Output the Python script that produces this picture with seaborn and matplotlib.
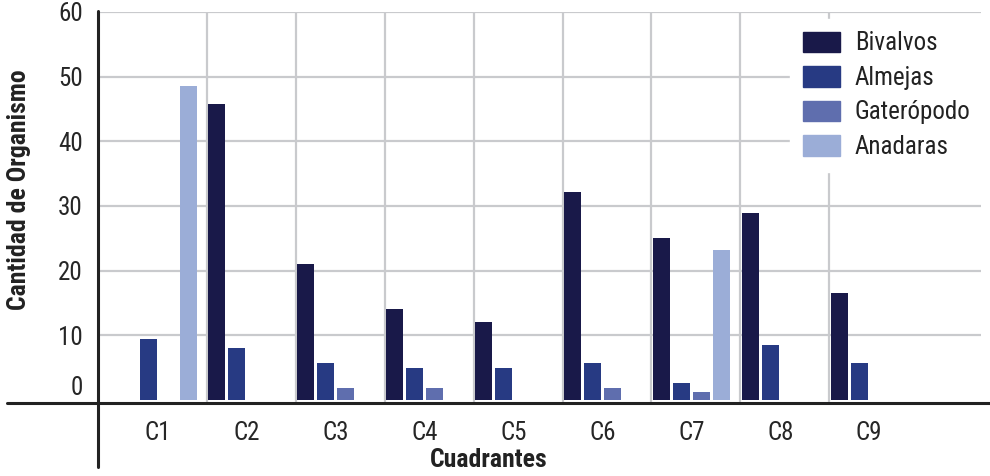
import numpy as np
import pandas as pd
import matplotlib
matplotlib.use("Agg")
import matplotlib.pyplot as plt
from matplotlib import font_manager
from matplotlib.lines import Line2D
import seaborn as sns

# Organism counts per quadrant
cuadrantes = ["C1", "C2", "C3", "C4", "C5", "C6", "C7", "C8", "C9"]
grupos = ["Bivalvos", "Almejas", "Gaterópodo", "Anadaras"]
bivalvos = [np.nan, 45.7, 21.0, 14.1, 12.1, 32.1, 25.0, 28.9, 16.5]
almejas = [9.4, 8.0, 5.7, 4.9, 4.9, 5.7, 2.6, 8.5, 5.7]
gateropodo = [np.nan, np.nan, 1.9, 1.9, np.nan, 1.9, 1.2, np.nan, np.nan]
anadaras = [48.5, np.nan, np.nan, np.nan, np.nan, np.nan, 23.2, np.nan, np.nan]
y_ticks = [0, 10, 20, 30, 40, 50, 60]

colores = ["#191949", "#273a83", "#5f6eae", "#9badd7"]

df = pd.DataFrame({
    "Cuadrante": cuadrantes * 4,
    "Grupo": [g for g in grupos for _ in cuadrantes],
    "Cantidad": bivalvos + almejas + gateropodo + anadaras,
}).dropna()


def first_font(names):
    for n in names:
        try:
            font_manager.findfont(n, fallback_to_default=False)
            return n
        except Exception:
            continue
    return "DejaVu Sans"


sns.set_theme(style="white")
fam = first_font(["Roboto Condensed", "Archivo Narrow", "PT Sans Narrow", "Liberation Sans"])
plt.rcParams["font.family"] = [fam, "DejaVu Sans"]

W, H = 990, 476
fig = plt.figure(figsize=(W / 100, H / 100), dpi=100)
ax = fig.add_axes([98 / W, (H - 404) / H, (981 - 98) / W, (404 - 12) / H])

sns.barplot(data=df, x="Cuadrante", y="Cantidad", hue="Grupo",
            order=cuadrantes, hue_order=grupos, palette=colores,
            width=0.9, gap=0.15, saturation=1, linewidth=0,
            errorbar=None, legend=False, ax=ax)

ax.set_xlim(-0.675, 9.257)
ax.set_ylim(-0.62, 60)

for s in ax.spines.values():
    s.set_visible(False)

# gridlines: horizontal ones from 10 upward, vertical ones between quadrants
ax.yaxis.remove_overlapping_locs = False
ax.set_yticks(y_ticks)
ax.set_yticks(y_ticks[1:], minor=True)
ax.set_xticks(np.arange(len(cuadrantes) - 1) + 0.55, minor=True)
ax.grid(False, which="major")
ax.grid(True, which="minor", color="#c9cacd", lw=1.6)
ax.set_axisbelow(True)

ax.tick_params(which="both", length=0)
ax.tick_params(axis="y", which="major", labelsize=18, labelcolor="#262626", pad=11)
ax.tick_params(axis="x", which="major", labelsize=18, labelcolor="#262626", pad=12)
ax.yaxis.get_majorticklabels()[0].set_va("bottom")

ax.set_ylabel("Cantidad de Organismo", fontsize=18.5, fontweight="bold", color="#222222")
ax.yaxis.set_label_coords((19 - 98) / (981 - 98), (404 - 190) / 392)
ax.yaxis.label.set_va("center")
ax.set_xlabel("Cuadrantes", fontsize=18.5, fontweight="bold", color="#222222")
ax.xaxis.set_label_coords((489 - 98) / (981 - 98), (404 - 460) / 392)
ax.xaxis.label.set_va("center")

handles = [plt.Rectangle((0, 0), 1, 1, color=c) for c in colores]
leg = ax.legend(handles, grupos, loc="upper left",
                bbox_to_anchor=(790 / W, 1 - 19 / H), bbox_transform=fig.transFigure,
                fontsize=18, frameon=True, fancybox=False, framealpha=1,
                edgecolor="white", facecolor="white", borderpad=0.5,
                borderaxespad=0, handlelength=1.5, handleheight=0.9,
                handletextpad=0.6, labelspacing=0.42)
for t in leg.get_texts():
    t.set_color("#222222")

# Cross-shaped axis lines
fig.add_artist(Line2D([7 / W, 1.0], [(H - 403) / H] * 2, color="#222222", lw=2.2))
fig.add_artist(Line2D([98 / W] * 2, [(H - 467) / H, (H - 11) / H], color="#222222", lw=2.2))

fig.savefig("out.png", dpi=100, facecolor="white")
